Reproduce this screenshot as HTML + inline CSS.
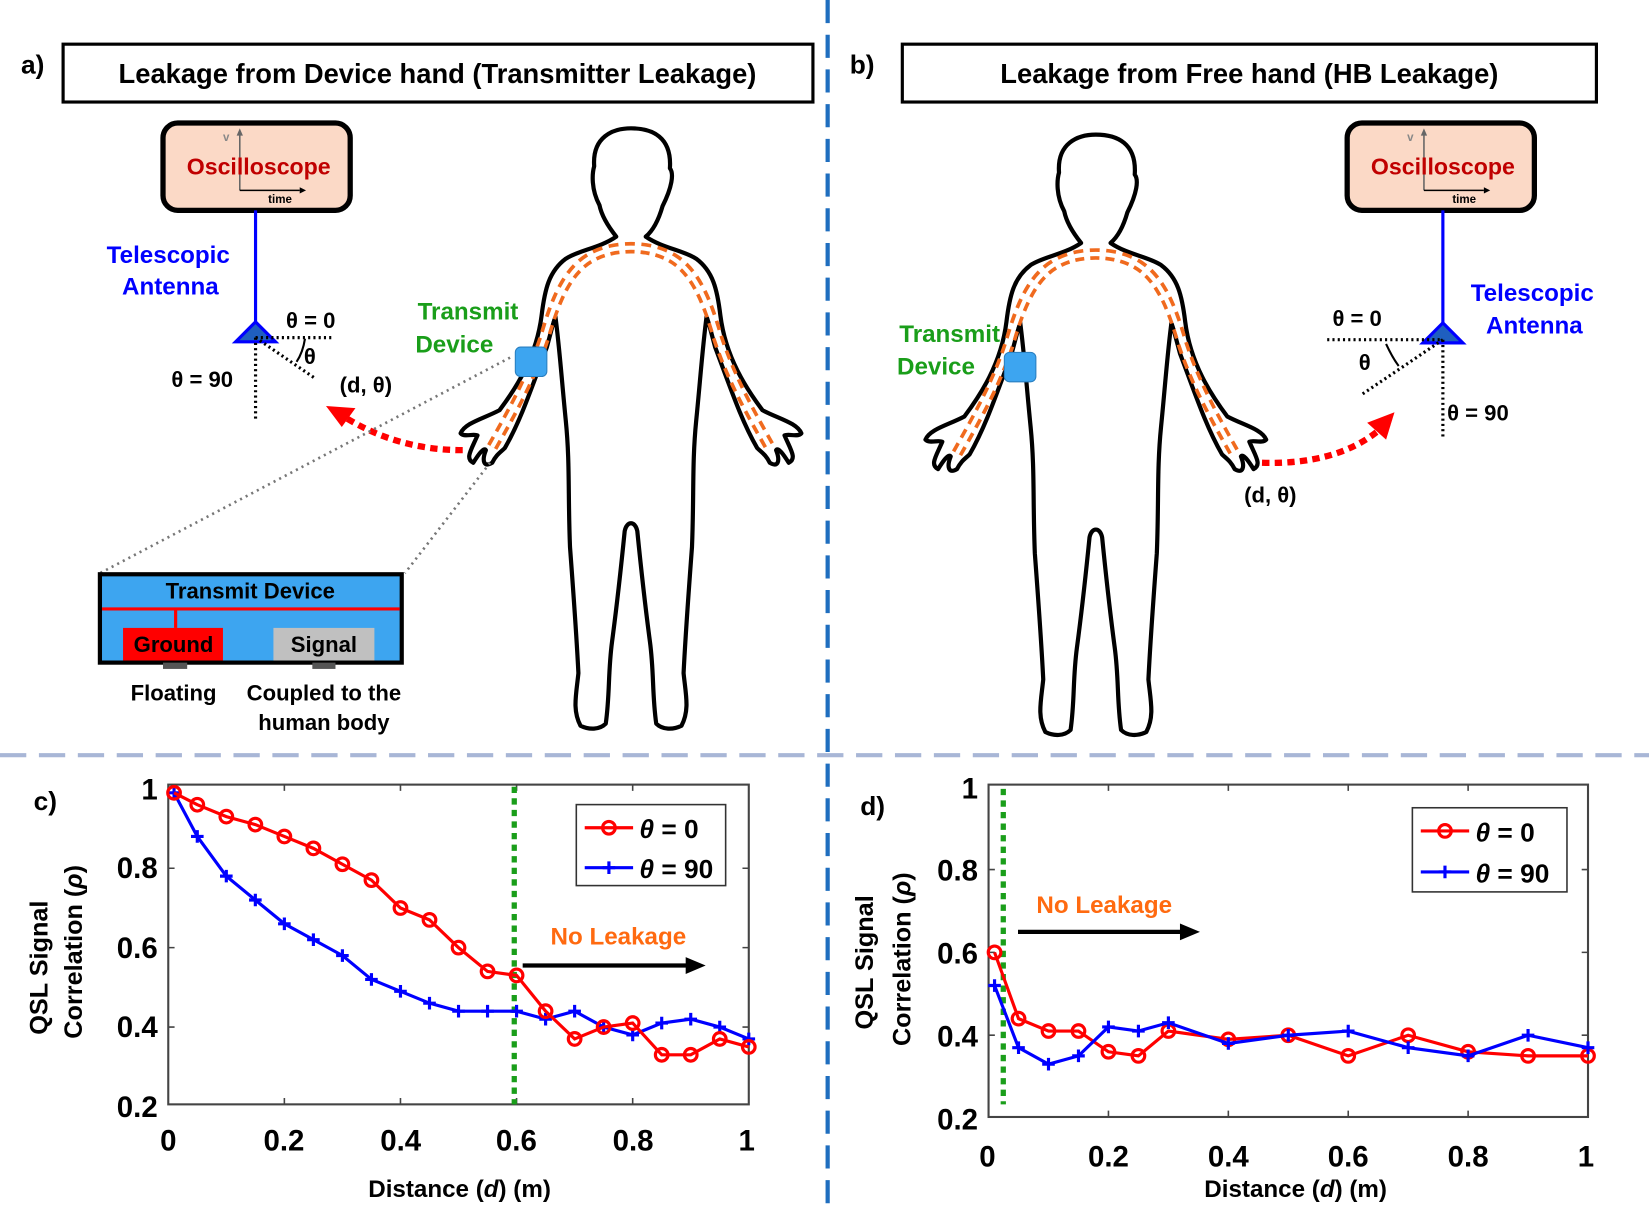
<!DOCTYPE html>
<html><head><meta charset="utf-8"><style>
html,body{margin:0;padding:0;background:#fff;}
svg{display:block;}
text{font-family:"Liberation Sans",sans-serif;font-weight:bold;}
</style></head><body>
<svg width="1649" height="1219" viewBox="0 0 1568 1159" preserveAspectRatio="none" xmlns="http://www.w3.org/2000/svg">
<defs>
<symbol id="body" overflow="visible">
<path d="M-14,225 C-22,215 -28,205 -30,195 C-38,180 -37,165 -35,158 C-37,130 -17,122 0,122 C20,122 39,130 37,160 C41,165 39,178 30,196 C26,210 20,220 14,225 C30,236 50,238 62,246 C78,258 82,275 85,300 C90,340 110,370 125,390 C140,398 158,402 162,412 C158,416 150,412 146,414 C152,428 158,436 150,440 C145,432 140,425 138,428 C142,438 140,445 132,440 C128,432 124,430 120,426 C105,400 95,370 80,330 L72,300 C68,330 66,360 62,400 C58,440 60,470 58,520 C55,560 52,600 50,640 C52,660 56,675 48,690 C40,694 30,694 24,688 C20,660 22,640 18,610 C14,580 10,545 6,505 C4,495 -4,495 -6,505 C-10,545 -14,580 -18,610 C-22,640 -20,660 -24,688 C-30,694 -40,694 -48,690 C-56,675 -52,660 -50,640 C-52,600 -55,560 -58,520 C-60,470 -58,440 -62,400 C-66,360 -68,330 -72,300 L-80,330 C-95,370 -105,400 -120,426 C-124,430 -128,432 -132,440 C-140,445 -142,438 -138,428 C-140,425 -145,432 -150,440 C-158,436 -152,428 -146,414 C-150,412 -158,416 -162,412 C-158,402 -140,398 -125,390 C-110,370 -90,340 -85,300 C-82,275 -78,258 -62,246 C-50,238 -30,236 -14,225 Z" fill="#fff" stroke="#000" stroke-width="4" stroke-linejoin="round"/>
<path d="M-132,425 C-115,395 -95,360 -82,320 C-72,285 -60,255 -35,243 C-15,233 15,233 35,243 C60,255 72,285 82,320 C95,360 115,395 132,425" fill="none" stroke="#f06a1e" stroke-width="11" stroke-dasharray="9,6"/>
<path d="M-132,425 C-115,395 -95,360 -82,320 C-72,285 -60,255 -35,243 C-15,233 15,233 35,243 C60,255 72,285 82,320 C95,360 115,395 132,425" fill="none" stroke="#fff" stroke-width="4"/>
</symbol>
<symbol id="osc" overflow="visible">
<rect x="0" y="0" width="178" height="83" rx="14" fill="#fbd9c6" stroke="#000" stroke-width="5"/>
<line x1="73" y1="8" x2="73" y2="64" stroke="#666" stroke-width="1.5"/>
<line x1="73" y1="64" x2="130" y2="64" stroke="#000" stroke-width="1.5"/>
<path d="M130,61 L136,64 L130,67Z" fill="#000"/>
<path d="M70,12 L73,5 L76,12Z" fill="#666"/>
<text x="57" y="17" font-size="11" fill="#888" font-weight="normal">v</text>
<text x="100" y="76" font-size="11" fill="#000">time</text>
<text x="91" y="49" font-size="22" fill="#c00000" text-anchor="middle">Oscilloscope</text>
</symbol>
<symbol id="cm" overflow="visible"><circle r="6" fill="none" stroke="#f00" stroke-width="3"/></symbol>
<symbol id="pm" overflow="visible"><path d="M-6,0H6M0,-6V6" stroke="#00f" stroke-width="3"/></symbol>
</defs>

<line x1="787" y1="0" x2="787" y2="1145" stroke="#1f6ebf" stroke-width="4" stroke-dasharray="22,11"/>
<line x1="0" y1="718" x2="1568" y2="718" stroke="#a8b6d6" stroke-width="4" stroke-dasharray="25,12"/>

<!-- Panel a -->
<text x="20" y="70" font-size="25">a)</text>
<rect x="60" y="42" width="713" height="55" fill="#fff" stroke="#000" stroke-width="3"/>
<text x="416" y="79" font-size="26" text-anchor="middle">Leakage from Device hand (Transmitter Leakage)</text>
<use href="#body" x="600" y="0"/>
<use href="#osc" x="155" y="117"/>
<line x1="243" y1="200" x2="243" y2="315" stroke="#00f" stroke-width="3"/>
<path d="M224,325 L243,306 L262,325Z" fill="#1f5fbf" stroke="#00f" stroke-width="3"/>
<text x="160" y="250" font-size="23" fill="#00f" text-anchor="middle">Telescopic</text>
<text x="162" y="280" font-size="23" fill="#00f" text-anchor="middle">Antenna</text>
<g stroke="#000" stroke-width="3" stroke-dasharray="2,3" fill="none">
<line x1="243" y1="321" x2="318" y2="321"/><line x1="243" y1="321" x2="243" y2="398"/><line x1="243" y1="321" x2="300" y2="360"/>
</g>
<path d="M290,322 Q288,335 282,344" fill="none" stroke="#000" stroke-width="2"/>
<text x="272" y="312" font-size="21">θ = 0</text>
<text x="289" y="346" font-size="21">θ</text>
<text x="163" y="368" font-size="21">θ = 90</text>
<text x="323" y="373" font-size="21">(d, θ)</text>
<path d="M440,428 Q380,428 330,398" fill="none" stroke="#f00" stroke-width="6" stroke-dasharray="7,5"/>
<path d="M310,386 L338,388 L325,406Z" fill="#f00"/>
<text x="445" y="304" font-size="23" fill="#1a9e1a" text-anchor="middle">Transmit</text>
<text x="432" y="335" font-size="23" fill="#1a9e1a" text-anchor="middle">Device</text>
<rect x="490" y="330" width="30" height="28" rx="5" fill="#3da5f0" stroke="#2a7fc0" stroke-width="1"/>
<g stroke="#777" stroke-width="2.5" stroke-dasharray="2,4"><line x1="485" y1="340" x2="95" y2="545"/><line x1="466" y1="440" x2="385" y2="545"/></g>
<rect x="95" y="546" width="287" height="84" fill="#3da5f0" stroke="#000" stroke-width="4"/>
<text x="238" y="569" font-size="21" text-anchor="middle">Transmit Device</text>
<line x1="97" y1="579" x2="380" y2="579" stroke="#f00" stroke-width="3"/>
<line x1="167" y1="579" x2="167" y2="597" stroke="#f00" stroke-width="3"/>
<rect x="117" y="597" width="95" height="31" fill="#f00"/>
<text x="165" y="620" font-size="21" text-anchor="middle">Ground</text>
<rect x="260" y="597" width="96" height="31" fill="#c0c0c0"/>
<text x="308" y="620" font-size="21" text-anchor="middle">Signal</text>
<rect x="155" y="630" width="23" height="6" fill="#555"/><rect x="297" y="630" width="22" height="6" fill="#555"/>
<text x="165" y="666" font-size="21" text-anchor="middle">Floating</text>
<text x="308" y="666" font-size="21" text-anchor="middle">Coupled to the</text>
<text x="308" y="694" font-size="21" text-anchor="middle">human body</text>

<!-- Panel b -->
<text x="808" y="70" font-size="25">b)</text>
<rect x="858" y="42" width="660" height="55" fill="#fff" stroke="#000" stroke-width="3"/>
<text x="1188" y="79" font-size="26" text-anchor="middle">Leakage from Free hand (HB Leakage)</text>
<use href="#body" x="1042" y="6"/>
<use href="#osc" x="1281" y="117"/>
<line x1="1372" y1="200" x2="1372" y2="315" stroke="#00f" stroke-width="3"/>
<path d="M1353,326 L1372,307 L1391,326Z" fill="#1f5fbf" stroke="#00f" stroke-width="3"/>
<text x="1457" y="286" font-size="23" fill="#00f" text-anchor="middle">Telescopic</text>
<text x="1459" y="317" font-size="23" fill="#00f" text-anchor="middle">Antenna</text>
<g stroke="#000" stroke-width="3" stroke-dasharray="2,3" fill="none">
<line x1="1262" y1="323" x2="1372" y2="323"/><line x1="1372" y1="323" x2="1372" y2="415"/><line x1="1372" y1="323" x2="1295" y2="375"/>
</g>
<path d="M1318,327 Q1324,340 1330,348" fill="none" stroke="#000" stroke-width="2"/>
<text x="1267" y="310" font-size="21">θ = 0</text>
<text x="1292" y="352" font-size="21">θ</text>
<text x="1376" y="400" font-size="21">θ = 90</text>
<text x="1183" y="478" font-size="21">(d, θ)</text>
<path d="M1200,440 Q1270,442 1310,410" fill="none" stroke="#f00" stroke-width="6" stroke-dasharray="7,5"/>
<path d="M1326,392 L1300,402 L1318,418Z" fill="#f00"/>
<text x="903" y="325" font-size="23" fill="#1a9e1a" text-anchor="middle">Transmit</text>
<text x="890" y="356" font-size="23" fill="#1a9e1a" text-anchor="middle">Device</text>
<rect x="955" y="335" width="30" height="28" rx="5" fill="#3da5f0" stroke="#2a7fc0" stroke-width="1"/>

<!-- Plot c -->
<text x="32" y="770" font-size="25">c)</text>
<rect x="160" y="746" width="552" height="304" fill="none" stroke="#444" stroke-width="2"/>
<g stroke="#444" stroke-width="1.5">
<path d="M270.4,1050v-6M380.8,1050v-6M491.2,1050v-6M601.6,1050v-6M270.4,746v6M380.8,746v6M491.2,746v6M601.6,746v6M160,976.5h6M160,901h6M160,825.5h6M712,976.5h-6M712,901h-6M712,825.5h-6"/>
</g>
<g font-size="28" text-anchor="end">
<text x="150" y="760">1</text><text x="150" y="835">0.8</text><text x="150" y="911">0.6</text><text x="150" y="986">0.4</text><text x="150" y="1062">0.2</text>
</g>
<g font-size="28" text-anchor="middle">
<text x="160" y="1094">0</text><text x="270" y="1094">0.2</text><text x="381" y="1094">0.4</text><text x="491" y="1094">0.6</text><text x="602" y="1094">0.8</text><text x="710" y="1094">1</text>
</g>
<text x="437" y="1138" font-size="23" text-anchor="middle">Distance (<tspan font-style="italic">d</tspan>) (m)</text>
<text transform="translate(45,920) rotate(-90)" font-size="24" text-anchor="middle">QSL Signal</text>
<text transform="translate(78,905) rotate(-90)" font-size="24" text-anchor="middle">Correlation (<tspan font-style="italic">ρ</tspan>)</text>
<line x1="489" y1="748" x2="489" y2="1050" stroke="#1a9e1a" stroke-width="5" stroke-dasharray="6,5"/>
<text x="588" y="898" font-size="23" fill="#ff6a10" text-anchor="middle">No Leakage</text>
<line x1="497" y1="918" x2="655" y2="918" stroke="#000" stroke-width="4"/><path d="M652,910 L671,918 L652,926Z" fill="#000"/>
<polyline fill="none" stroke="#00f" stroke-width="3" points="165.5,753.8 187.6,795.3 215.2,833 242.8,855.7 270.4,878.3 298,893.4 325.6,908.5 353.2,931.2 380.8,942.5 408.4,953.8 436,961.4 463.6,961.4 491.2,961.4 518.8,969 546.4,961.4 574,976.5 601.6,984 629.2,972.7 656.8,969 684.4,976.5 712,987.8"/>
<g><use href="#pm" x="165.5" y="753.8"/><use href="#pm" x="187.6" y="795.3"/><use href="#pm" x="215.2" y="833"/><use href="#pm" x="242.8" y="855.7"/><use href="#pm" x="270.4" y="878.3"/><use href="#pm" x="298" y="893.4"/><use href="#pm" x="325.6" y="908.5"/><use href="#pm" x="353.2" y="931.2"/><use href="#pm" x="380.8" y="942.5"/><use href="#pm" x="408.4" y="953.8"/><use href="#pm" x="436" y="961.4"/><use href="#pm" x="463.6" y="961.4"/><use href="#pm" x="491.2" y="961.4"/><use href="#pm" x="518.8" y="969"/><use href="#pm" x="546.4" y="961.4"/><use href="#pm" x="574" y="976.5"/><use href="#pm" x="601.6" y="984"/><use href="#pm" x="629.2" y="972.7"/><use href="#pm" x="656.8" y="969"/><use href="#pm" x="684.4" y="976.5"/><use href="#pm" x="712" y="987.8"/></g>
<polyline fill="none" stroke="#f00" stroke-width="3" points="165.5,753.8 187.6,765.1 215.2,776.4 242.8,784 270.4,795.3 298,806.6 325.6,821.7 353.2,836.8 380.8,863.3 408.4,874.6 436,901 463.6,923.6 491.2,927.4 518.8,961.4 546.4,987.8 574,976.5 601.6,972.7 629.2,1002.9 656.8,1002.9 684.4,987.8 712,995.4"/>
<g><use href="#cm" x="165.5" y="753.8"/><use href="#cm" x="187.6" y="765.1"/><use href="#cm" x="215.2" y="776.4"/><use href="#cm" x="242.8" y="784"/><use href="#cm" x="270.4" y="795.3"/><use href="#cm" x="298" y="806.6"/><use href="#cm" x="325.6" y="821.7"/><use href="#cm" x="353.2" y="836.8"/><use href="#cm" x="380.8" y="863.3"/><use href="#cm" x="408.4" y="874.6"/><use href="#cm" x="436" y="901"/><use href="#cm" x="463.6" y="923.6"/><use href="#cm" x="491.2" y="927.4"/><use href="#cm" x="518.8" y="961.4"/><use href="#cm" x="546.4" y="987.8"/><use href="#cm" x="574" y="976.5"/><use href="#cm" x="601.6" y="972.7"/><use href="#cm" x="629.2" y="1002.9"/><use href="#cm" x="656.8" y="1002.9"/><use href="#cm" x="684.4" y="987.8"/><use href="#cm" x="712" y="995.4"/></g>
<rect x="548" y="765" width="142" height="77" fill="#fff" stroke="#333" stroke-width="1.5"/>
<line x1="556" y1="787" x2="602" y2="787" stroke="#f00" stroke-width="3"/><use href="#cm" x="579" y="787"/>
<line x1="556" y1="825" x2="602" y2="825" stroke="#00f" stroke-width="3"/><use href="#pm" x="579" y="825"/>
<text x="608" y="797" font-size="25"><tspan font-style="italic">θ</tspan> = 0</text>
<text x="608" y="835" font-size="25"><tspan font-style="italic">θ</tspan> = 90</text>

<!-- Plot d -->
<text x="818" y="775" font-size="25">d)</text>
<rect x="940" y="746" width="570" height="316" fill="none" stroke="#444" stroke-width="2"/>
<g stroke="#444" stroke-width="1.5">
<path d="M1054,1062v-6M1168,1062v-6M1282,1062v-6M1396,1062v-6M1054,746v6M1168,746v6M1282,746v6M1396,746v6M940,984.25h6M940,905.5h6M940,826.75h6M1510,984.25h-6M1510,905.5h-6M1510,826.75h-6"/>
</g>
<g font-size="28" text-anchor="end">
<text x="930" y="759">1</text><text x="930" y="837">0.8</text><text x="930" y="916">0.6</text><text x="930" y="995">0.4</text><text x="930" y="1074">0.2</text>
</g>
<g font-size="28" text-anchor="middle">
<text x="939" y="1109">0</text><text x="1054" y="1109">0.2</text><text x="1168" y="1109">0.4</text><text x="1282" y="1109">0.6</text><text x="1396" y="1109">0.8</text><text x="1508" y="1109">1</text>
</g>
<text x="1232" y="1138" font-size="23" text-anchor="middle">Distance (<tspan font-style="italic">d</tspan>) (m)</text>
<text transform="translate(830,915) rotate(-90)" font-size="24" text-anchor="middle">QSL Signal</text>
<text transform="translate(866,912) rotate(-90)" font-size="24" text-anchor="middle">Correlation (<tspan font-style="italic">ρ</tspan>)</text>
<line x1="954" y1="750" x2="954" y2="1050" stroke="#1a9e1a" stroke-width="5" stroke-dasharray="6,5"/>
<text x="1050" y="868" font-size="23" fill="#ff6a10" text-anchor="middle">No Leakage</text>
<line x1="968" y1="886" x2="1125" y2="886" stroke="#000" stroke-width="4"/><path d="M1122,878 L1141,886 L1122,894Z" fill="#000"/>
<polyline fill="none" stroke="#f00" stroke-width="3" points="945.7,905.5 968.5,968.5 997,980.3 1025.5,980.3 1054,1000 1082.5,1003.9 1111,980.3 1168,988.2 1225,984.3 1282,1003.9 1339,984.3 1396,1000 1453,1003.9 1510,1003.9"/>
<g><use href="#cm" x="945.7" y="905.5"/><use href="#cm" x="968.5" y="968.5"/><use href="#cm" x="997" y="980.3"/><use href="#cm" x="1025.5" y="980.3"/><use href="#cm" x="1054" y="1000"/><use href="#cm" x="1082.5" y="1003.9"/><use href="#cm" x="1111" y="980.3"/><use href="#cm" x="1168" y="988.2"/><use href="#cm" x="1225" y="984.3"/><use href="#cm" x="1282" y="1003.9"/><use href="#cm" x="1339" y="984.3"/><use href="#cm" x="1396" y="1000"/><use href="#cm" x="1453" y="1003.9"/><use href="#cm" x="1510" y="1003.9"/></g>
<polyline fill="none" stroke="#00f" stroke-width="3" points="945.7,937 968.5,996.1 997,1011.8 1025.5,1003.9 1054,976.4 1082.5,980.3 1111,972.4 1168,992.1 1225,984.3 1282,980.3 1339,996.1 1396,1003.9 1453,984.3 1510,996.1"/>
<g><use href="#pm" x="945.7" y="937"/><use href="#pm" x="968.5" y="996.1"/><use href="#pm" x="997" y="1011.8"/><use href="#pm" x="1025.5" y="1003.9"/><use href="#pm" x="1054" y="976.4"/><use href="#pm" x="1082.5" y="980.3"/><use href="#pm" x="1111" y="972.4"/><use href="#pm" x="1168" y="992.1"/><use href="#pm" x="1225" y="984.3"/><use href="#pm" x="1282" y="980.3"/><use href="#pm" x="1339" y="996.1"/><use href="#pm" x="1396" y="1003.9"/><use href="#pm" x="1453" y="984.3"/><use href="#pm" x="1510" y="996.1"/></g>
<rect x="1343" y="768" width="147" height="80" fill="#fff" stroke="#333" stroke-width="1.5"/>
<line x1="1351" y1="790" x2="1397" y2="790" stroke="#f00" stroke-width="3"/><use href="#cm" x="1374" y="790"/>
<line x1="1351" y1="829" x2="1397" y2="829" stroke="#00f" stroke-width="3"/><use href="#pm" x="1374" y="829"/>
<text x="1403" y="800" font-size="25"><tspan font-style="italic">θ</tspan> = 0</text>
<text x="1403" y="839" font-size="25"><tspan font-style="italic">θ</tspan> = 90</text>
</svg>
</body></html>
